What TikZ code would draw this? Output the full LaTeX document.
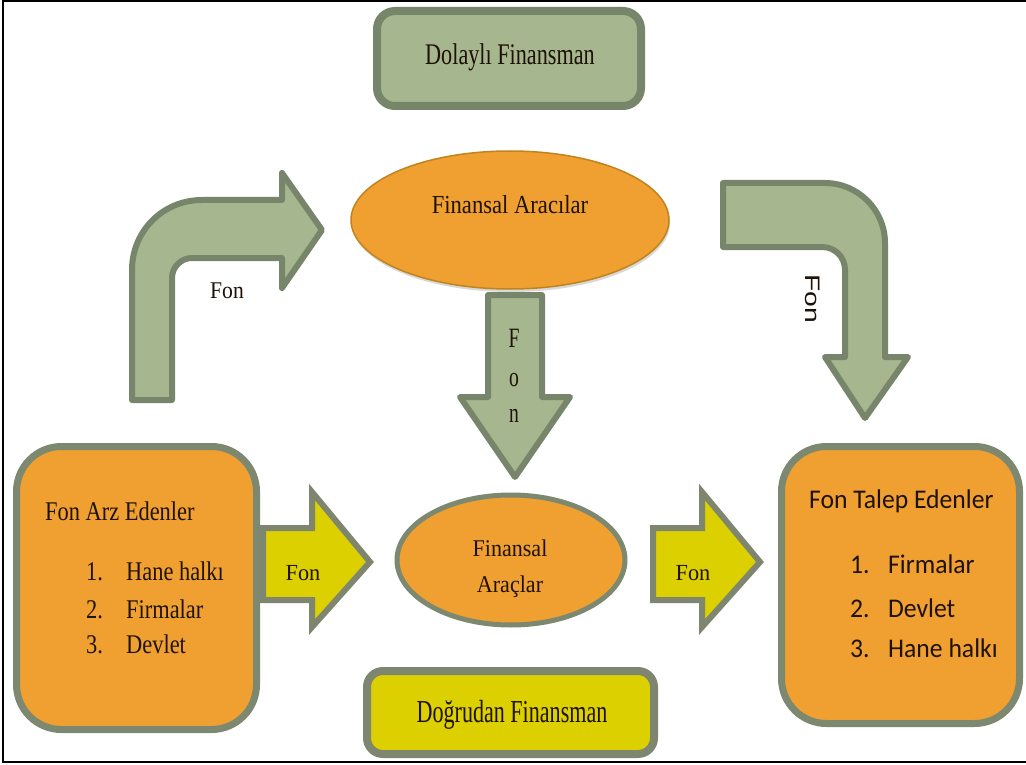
\documentclass[tikz,border=0pt]{standalone}
\usepackage{fontspec}
\setmainfont{Liberation Serif}
\newfontfamily\calfont{Carlito}
\newfontfamily\arialfont{Liberation Sans}
\usetikzlibrary{shapes.geometric,shadows}

\definecolor{orangefill}{HTML}{F0A030}
\definecolor{boxline}{HTML}{7C8870}
\definecolor{greenfill}{HTML}{A6B68E}
\definecolor{greenline}{HTML}{77866A}
\definecolor{yfill}{HTML}{DDD000}
\definecolor{yline}{HTML}{7E8670}
\definecolor{txtcol}{HTML}{1E1208}
\definecolor{ovalline}{HTML}{C0841E}

% font size in px, horizontal squeeze, text
\newcommand{\hstext}[3]{\fontsize{#1}{#1}\selectfont\scalebox{#2}[1]{#3}}

\tikzset{
  lbl/.style={text=txtcol, inner sep=0pt, anchor=base},
  lblw/.style={text=txtcol, inner sep=0pt, anchor=base west},
  orangebox/.style={draw=boxline, line width=7pt, fill=orangefill, rounded corners=45pt},
  greenbox/.style={draw=greenline, line width=8pt, fill=greenfill, rounded corners=18pt},
  yellowbox/.style={draw=yline, line width=8pt, fill=yfill, rounded corners=16pt},
  greenarrow/.style={draw=greenline, line width=6pt, fill=greenfill, line join=round},
  yellowarrow/.style={draw=yline, line width=6pt, fill=yfill, line join=miter},
}

\begin{document}
\begin{tikzpicture}[x=1pt,y=-1pt]
\useasboundingbox (0,0) rectangle (1026,765);
\fill[white] (0,0) rectangle (1026,765);
\draw[line width=2.5pt] (1026,1.2) -- (3,1.2) -- (3,762) -- (1026,762);

% ---- block arrows ----
% bent arrow: suppliers up to intermediaries
\filldraw[greenarrow]
  (132,400) -- (132,270) .. controls (132,231) and (163,200) .. (202,200)
  -- (282,200) -- (282,173) -- (322,230) -- (282,288) -- (282,258)
  -- (192,258) .. controls (181,258) and (172,267) .. (172,278)
  -- (172,400) -- cycle;
% bent arrow: intermediaries down to demanders
\filldraw[greenarrow]
  (723,183) -- (825,183) .. controls (858,183) and (885,210) .. (885,243)
  -- (885,357) -- (908,357) -- (865,418) -- (825,357) -- (845,357)
  -- (845,270) .. controls (845,257) and (835,247) .. (822,247)
  -- (723,247) -- cycle;
% straight arrow: intermediaries down to instruments
\filldraw[greenarrow]
  (488,295) -- (542,295) -- (542,397) -- (570,397) -- (515,477)
  -- (460,397) -- (488,397) -- cycle;
% direct finance arrows
\filldraw[yellowarrow]
  (263,528) -- (312,528) -- (312,492) -- (370,562) -- (312,627)
  -- (312,600) -- (263,600) -- cycle;
\filldraw[yellowarrow]
  (653,528) -- (702,528) -- (702,492) -- (760,562) -- (702,627)
  -- (702,600) -- (653,600) -- cycle;

% ---- boxes and ovals ----
\node[greenbox, minimum width=264pt, minimum height=95pt] (indirect) at (509,58.5) {};
\node[yellowbox, minimum width=287pt, minimum height=83pt] (direct) at (510.5,712.5) {};
\node[orangebox, minimum width=240pt, minimum height=283pt] (supply) at (136.5,588) {};
\node[orangebox, minimum width=238pt, minimum height=277pt] (demand) at (900.5,585) {};
\node[ellipse, draw=ovalline, line width=1.5pt, fill=orangefill,
      minimum width=318pt, minimum height=138pt,
      drop shadow={opacity=0.3, shadow xshift=1pt, shadow yshift=-3pt}] (interm) at (510,220) {};
\node[ellipse, draw=boxline, line width=5pt, fill=orangefill,
      minimum width=228pt, minimum height=130pt] (instr) at (511,560) {};

% ---- texts ----
\node[lbl] (indirectlbl) at (510,65) {\hstext{30}{0.74}{Dolaylı Finansman}};
\node[lbl] (directlbl) at (512,722) {\hstext{32}{0.69}{Doğrudan Finansman}};
\node[lbl] (intermlbl) at (510,213) {\hstext{26}{0.87}{Finansal Aracılar}};
\node[lbl] (instrlbl1) at (510,556) {\hstext{24}{0.92}{Finansal}};
\node[lbl] (instrlbl2) at (510,592) {\hstext{24}{0.92}{Araçlar}};

\node[lblw] (supplyhead) at (45,520) {\hstext{27}{0.83}{Fon Arz Edenler}};
\node[lblw] (s1n) at (86,580) {\hstext{27}{0.83}{1.}};
\node[lblw] (s1) at (126,580) {\hstext{27}{0.83}{Hane halkı}};
\node[lblw] (s2n) at (86,618) {\hstext{27}{0.83}{2.}};
\node[lblw] (s2) at (126,618) {\hstext{27}{0.83}{Firmalar}};
\node[lblw] (s3n) at (86,653) {\hstext{27}{0.83}{3.}};
\node[lblw] (s3) at (126,653) {\hstext{27}{0.83}{Devlet}};

\node[lblw] (demandhead) at (809,508) {\calfont\hstext{27}{0.95}{Fon Talep Edenler}};
\node[lblw] (d1n) at (850,573) {\calfont\hstext{27}{0.95}{1.}};
\node[lblw] (d1) at (888,573) {\calfont\hstext{27}{0.95}{Firmalar}};
\node[lblw] (d2n) at (850,617) {\calfont\hstext{27}{0.95}{2.}};
\node[lblw] (d2) at (888,617) {\calfont\hstext{27}{0.95}{Devlet}};
\node[lblw] (d3n) at (850,657) {\calfont\hstext{27}{0.95}{3.}};
\node[lblw] (d3) at (888,657) {\calfont\hstext{27}{0.95}{Hane halkı}};

% arrow labels
\node[lbl] (fonleft) at (227,298) {\hstext{24}{0.9}{Fon}};
\node[text=txtcol, inner sep=0pt, rotate=-90] (fonright) at (813,299)
  {\arialfont\hstext{21}{1.35}{Fon}};
\node[lbl] (fonF) at (514,347) {\hstext{28}{0.7}{F}};
\node[lbl] (fono) at (514,386) {\hstext{28}{0.7}{o}};
\node[lbl] (fonn) at (514,422) {\hstext{28}{0.7}{n}};
\node[lbl] (fonya) at (303,580) {\hstext{23}{0.97}{Fon}};
\node[lbl] (fonyb) at (693,580) {\hstext{23}{0.97}{Fon}};
\end{tikzpicture}
\end{document}
